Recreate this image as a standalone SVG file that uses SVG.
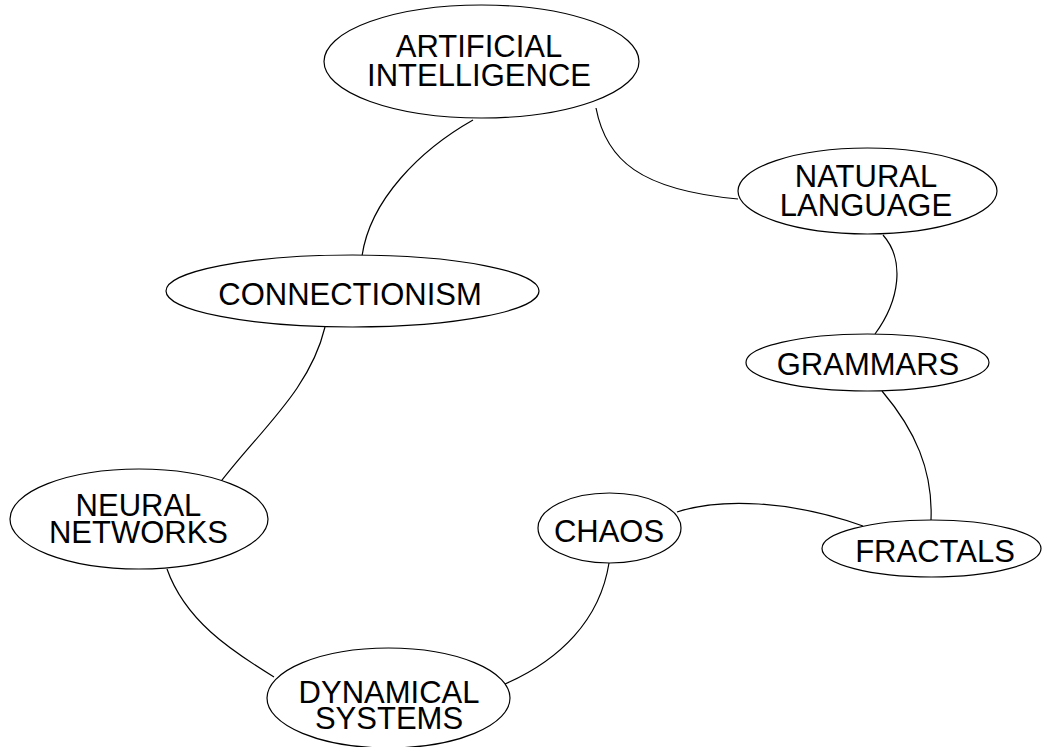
<svg xmlns="http://www.w3.org/2000/svg" width="1045" height="747" viewBox="0 0 1045 747">
<style>
.n ellipse{fill:#fff;stroke:#000;stroke-width:1.2}
.n text{font-family:"Liberation Sans",Arial,sans-serif;font-size:31px;fill:#000;text-anchor:middle}
#edges path{fill:none;stroke:#000;stroke-width:1.2}
</style>
<rect width="1045" height="747" fill="#fff"/>
<g id="edges">
<path d="M473,120 C420,150 370,200 362,256"/>
<path d="M596,108 C606,160 640,190 738,199"/>
<path d="M883,235 C905,260 900,300 875,334"/>
<path d="M882,391 C915,430 933,470 931,520"/>
<path d="M677,512 C720,498 790,500 863,526"/>
<path d="M609,563 C600,620 560,660 505,684"/>
<path d="M167,569 C185,620 230,650 274,677"/>
<path d="M325,327 C310,390 260,430 219,484"/>
</g>
<g id="ai" class="n"><ellipse cx="481.5" cy="61.5" rx="157.5" ry="56.5"/><text x="479" y="57">ARTIFICIAL</text><text x="479" y="86">INTELLIGENCE</text></g>
<g id="nl" class="n"><ellipse cx="867.5" cy="191" rx="129.5" ry="43"/><text x="866" y="187">NATURAL</text><text x="866" y="216">LANGUAGE</text></g>
<g id="conn" class="n"><ellipse cx="352.5" cy="291" rx="186.5" ry="36"/><text x="350" y="305">CONNECTIONISM</text></g>
<g id="gram" class="n"><ellipse cx="867.5" cy="362.5" rx="121.5" ry="28.5"/><text x="868" y="375">GRAMMARS</text></g>
<g id="nn" class="n"><ellipse cx="139" cy="519" rx="129" ry="50"/><text x="138.5" y="516">NEURAL</text><text x="138.5" y="543">NETWORKS</text></g>
<g id="chaos" class="n"><ellipse cx="609.5" cy="528" rx="71.5" ry="35"/><text x="609" y="542">CHAOS</text></g>
<g id="frac" class="n"><ellipse cx="931.5" cy="548.5" rx="109.5" ry="28.5"/><text x="935" y="562">FRACTALS</text></g>
<g id="dyn" class="n"><ellipse cx="388.5" cy="698" rx="121.5" ry="50"/><text x="389" y="703">DYNAMICAL</text><text x="389" y="729">SYSTEMS</text></g>
</svg>
